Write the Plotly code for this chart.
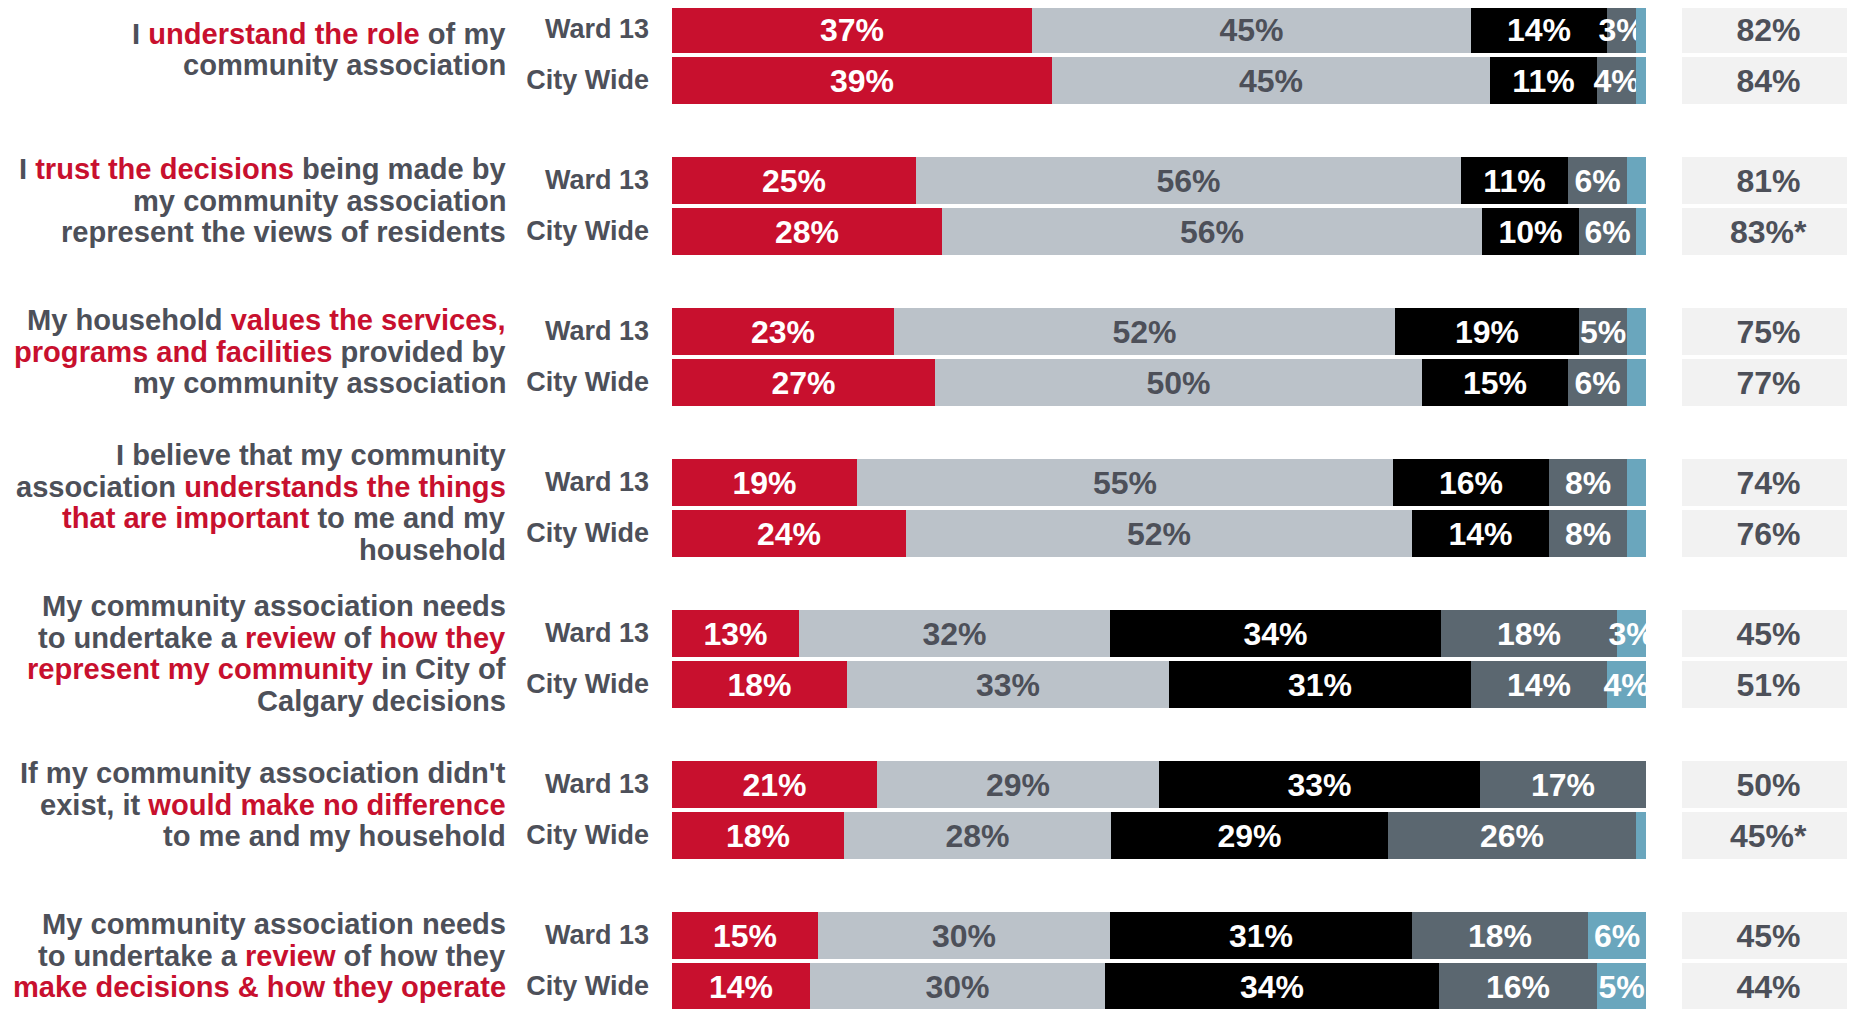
import plotly.graph_objects as go

# ---------------- data ----------------
ROW_LABELS = ["Ward 13", "City Wide"]

# Question text lines; text between [ and ] is highlighted in red
QUESTION_LINES = [
    ["I [understand the role] of my", "community association"],
    ["I [trust the decisions] being made by", "my community association",
     "represent the views of residents"],
    ["My household [values the services,]", "[programs and facilities] provided by",
     "my community association"],
    ["I believe that my community", "association [understands the things]",
     "[that are important] to me and my", "household"],
    ["My community association needs", "to undertake a [review] of [how they]",
     "[represent my community] in City of", "Calgary decisions"],
    ["If my community association didn't", "exist, it [would make no difference]",
     "to me and my household"],
    ["My community association needs", "to undertake a [review] of how they",
     "[make decisions &amp; how they operate]"],
]

# one entry per bar: Q1 Ward 13, Q1 City Wide, Q2 Ward 13, ...
STRONGLY_AGREE    = [37, 39, 25, 28, 23, 27, 19, 24, 13, 18, 21, 18, 15, 14]
SOMEWHAT_AGREE    = [45, 45, 56, 56, 52, 50, 55, 52, 32, 33, 29, 28, 30, 30]
SOMEWHAT_DISAGREE = [14, 11, 11, 10, 19, 15, 16, 14, 34, 31, 33, 29, 31, 34]
STRONGLY_DISAGREE = [3, 4, 6, 6, 5, 6, 8, 8, 18, 14, 17, 26, 18, 16]
DONT_KNOW         = [1, 1, 2, 1, 2, 2, 2, 2, 3, 4, 0, 1, 6, 5]
TOTAL_AGREE = ["82%", "84%", "81%", "83%*", "75%", "77%", "74%", "76%",
               "45%", "51%", "50%", "45%*", "45%", "44%"]

SERIES = [
    ("Strongly agree", STRONGLY_AGREE, "#c8102e", "white"),
    ("Somewhat agree", SOMEWHAT_AGREE, "#bbc2c9", "#4d5059"),
    ("Somewhat disagree", SOMEWHAT_DISAGREE, "#000000", "white"),
    ("Strongly disagree", STRONGLY_DISAGREE, "#5b6770", "white"),
    ("Don't know", DONT_KNOW, "#6aa6bd", "white"),
]

# ---------------- layout constants ----------------
PAGE_MARGIN = 8            # default body margin of the html page
W, H = 1855 - PAGE_MARGIN, 1009 - PAGE_MARGIN
GROUP_PITCH = 151
ROW_PITCH = 51
BAR_W = 47
TOP_OFFSET = 29 - PAGE_MARGIN
RED = "#c8102e"
DARK = "#4d5059"
FONT = "Liberation Sans, Arial, sans-serif"


def px(x):
    return (x - PAGE_MARGIN) / W


n_rows = len(STRONGLY_AGREE)
row_y = [(i // 2) * GROUP_PITCH + (i % 2) * ROW_PITCH for i in range(n_rows)]
row_sum = [sum(s[1][i] for s in SERIES) for i in range(n_rows)]

fig = go.Figure()
for name, vals, color, tcolor in SERIES:
    fig.add_trace(go.Bar(
        name=name, orientation="h", y=row_y,
        x=[v / row_sum[i] * 100 for i, v in enumerate(vals)],
        width=BAR_W, marker=dict(color=color, line=dict(width=0)),
        text=[f"{v}%" if v >= 3 else "" for v in vals],
        textposition="inside", insidetextanchor="middle",
        constraintext="none", textangle=0, cliponaxis=True,
        textfont=dict(family=FONT, size=32, color=tcolor, weight="bold"),
        hoverinfo="skip", xaxis="x", yaxis="y",
    ))

fig.add_trace(go.Bar(
    name="Total agree", orientation="h", y=row_y, x=[1] * n_rows,
    width=BAR_W, marker=dict(color="#f2f2f2", line=dict(width=0)),
    text=TOTAL_AGREE, textposition="inside", insidetextanchor="middle",
    constraintext="none", textangle=0,
    textfont=dict(family=FONT, size=32, color=DARK, weight="bold"),
    hoverinfo="skip", xaxis="x2", yaxis="y",
))


def fmt(line):
    return line.replace("[", f'<span style="color:{RED}">').replace("]", "</span>")


annotations = []
for g, lines in enumerate(QUESTION_LINES):
    center = g * GROUP_PITCH + ROW_PITCH / 2 - 5
    n = len(lines)
    for k, ln in enumerate(lines):
        annotations.append(dict(
            xref="paper", yref="y", x=px(508), y=center + (k - (n - 1) / 2) * 31.5,
            xanchor="right", yanchor="middle", showarrow=False, text=fmt(ln),
            font=dict(family=FONT, size=29.1, color=DARK, weight="bold"),
        ))

fig.update_layout(
    width=W, height=H, barmode="stack", showlegend=False,
    margin=dict(l=0, r=0, t=0, b=0), paper_bgcolor="white", plot_bgcolor="white",
    bargap=0,
    xaxis=dict(domain=[px(672), px(1646)], range=[0, 100], visible=False, fixedrange=True),
    xaxis2=dict(domain=[px(1682), 1], range=[0, 1], visible=False, fixedrange=True,
                anchor="y"),
    yaxis=dict(range=[H - TOP_OFFSET, -TOP_OFFSET], showgrid=False, zeroline=False,
               showline=False, tickvals=row_y,
               ticktext=[ROW_LABELS[i % 2] for i in range(n_rows)],
               ticks="", ticklabelstandoff=22,
               tickfont=dict(family=FONT, size=27, color=DARK, weight="bold"),
               fixedrange=True),
    annotations=annotations,
)

fig.write_html("out.html")
